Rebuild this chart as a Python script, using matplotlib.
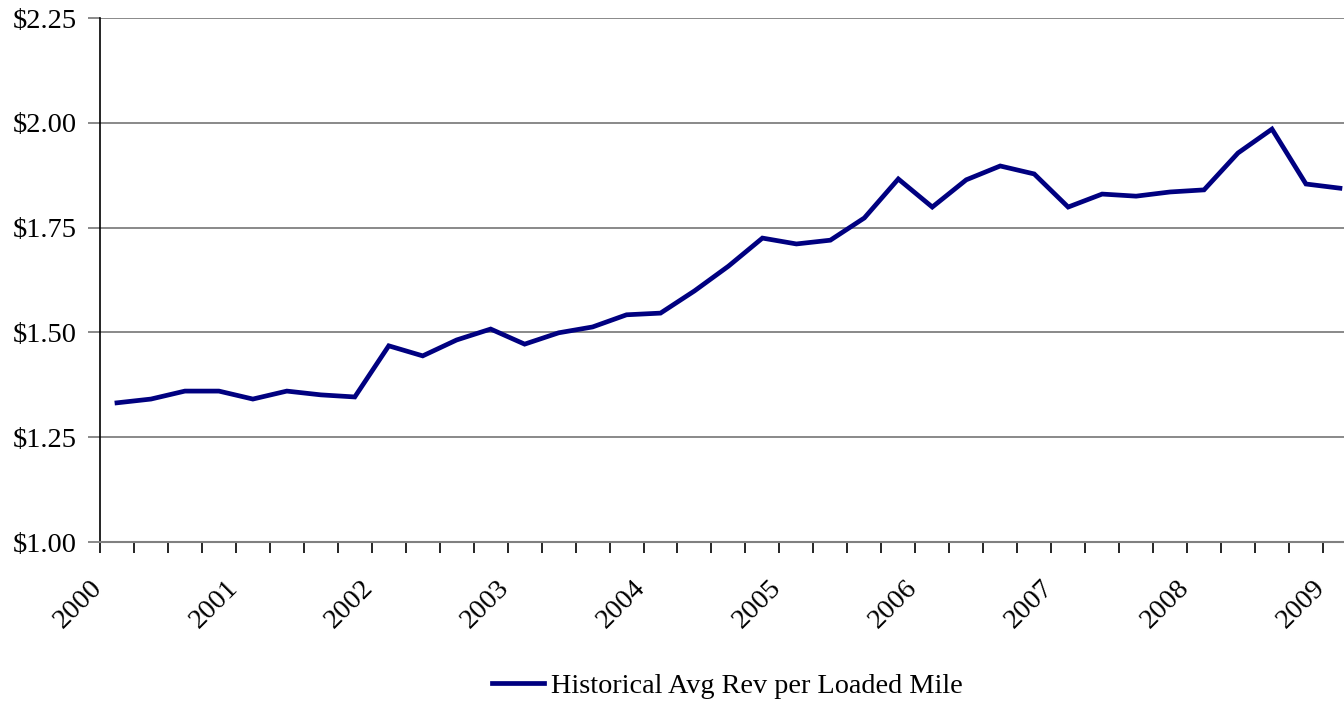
import matplotlib
matplotlib.use("Agg")
import matplotlib.pyplot as plt
from matplotlib.ticker import FixedLocator, FuncFormatter

years = ["2000", "2001", "2002", "2003", "2004", "2005", "2006", "2007", "2008", "2009"]
series_name = "Historical Avg Rev per Loaded Mile"
rev_per_mile = [
    1.332, 1.341, 1.360, 1.360, 1.341, 1.360, 1.351, 1.346,
    1.468, 1.444, 1.482, 1.508, 1.472, 1.499, 1.513, 1.542,
    1.546, 1.599, 1.658, 1.725, 1.711, 1.720, 1.773, 1.866,
    1.799, 1.864, 1.897, 1.878, 1.799, 1.830, 1.825, 1.835,
    1.840, 1.928, 1.985, 1.854, 1.844,
]
y_ticks = [1.00, 1.25, 1.50, 1.75, 2.00, 2.25]

plt.rcParams['font.family'] = ['Liberation Serif', 'DejaVu Serif']

fig = plt.figure(figsize=(13.44, 7.02), dpi=100)
ax = fig.add_axes([100/1344, 1 - 542/702, 1 - 100/1344, (542 - 18)/702])

x = list(range(len(rev_per_mile)))
ax.plot(x, rev_per_mile, color='#000080', linewidth=3.4, label=series_name,
        solid_joinstyle='miter', clip_on=False)

ax.set_ylim(1.0, 2.25)
ax.set_xlim(-0.5, 36.12)
ax.set_yticks(y_ticks)
ax.yaxis.set_major_formatter(FuncFormatter(lambda v, p: f"${v:.2f}"))
ax.grid(axis='y', color='#808080', linewidth=1.3)
ax.set_axisbelow(True)

# category boundaries as ticks
bounds = [i - 0.5 for i in range(len(rev_per_mile))]
ax.xaxis.set_major_locator(FixedLocator(bounds))
ax.set_xticklabels([])
ax.tick_params(axis='x', direction='out', length=8, width=1.2, color='black')
ax.tick_params(axis='y', direction='out', length=9, width=1.3, color='#808080',
               labelsize=20.5, pad=8)

for i, yr in enumerate(years):
    ax.annotate(yr, xy=(-0.5 + 4 * i, 0), xycoords=('data', 'axes fraction'),
                xytext=(7, -33), textcoords='offset pixels',
                rotation=45, ha='right', va='top', fontsize=20.5,
                annotation_clip=False)

for s in ['top', 'right']:
    ax.spines[s].set_visible(False)
ax.spines['left'].set_color('black')
ax.spines['left'].set_linewidth(1.2)
ax.spines['bottom'].set_color('#808080')
ax.spines['bottom'].set_linewidth(1.5)

fig.legend(loc='center', bbox_to_anchor=(727/1344, 1 - 686/702), frameon=False,
           fontsize=20.3, handlelength=1.85, handletextpad=0.25)

fig.savefig('out.png', dpi=100)
